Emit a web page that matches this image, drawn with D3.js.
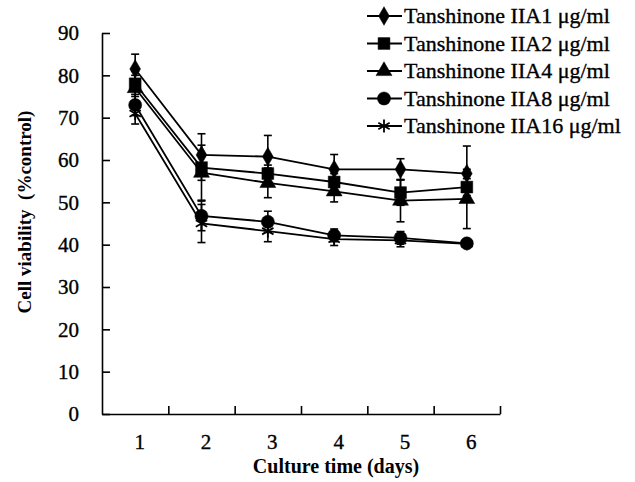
<!DOCTYPE html>
<html>
<head>
<meta charset="utf-8">
<script src="https://cdn.jsdelivr.net/npm/d3@7"></script>
<style>
    html, body { margin: 0; padding: 0; background: #fff; }
</style>
</head>
<body>
<div id="chart"></div>
<script>
var days = [1, 2, 3, 4, 5, 6];
var yTicks = [0, 10, 20, 30, 40, 50, 60, 70, 80, 90];
var seriesNames = ["Tanshinone IIA1 \u03bcg/ml", "Tanshinone IIA2 \u03bcg/ml", "Tanshinone IIA4 \u03bcg/ml",
    "Tanshinone IIA8 \u03bcg/ml", "Tanshinone IIA16 \u03bcg/ml"];
var dose1 = [81.5, 61.2, 60.8, 57.8, 57.8, 56.8];
var dose2 = [78.0, 58.2, 56.8, 54.8, 52.3, 53.6];
var dose4 = [77.0, 57.0, 54.6, 52.6, 50.4, 50.8];
var dose8 = [73.0, 46.8, 45.4, 42.2, 41.6, 40.3];
var dose16 = [71.0, 45.0, 43.2, 41.3, 41.0, 40.2];
var err1 = [3.5, 5.0, 5.0, 3.5, 2.5, 6.5];
var err2 = [3.0, 3.0, 2.0, 2.0, 3.0, 2.0];
var err4 = [3.0, 6.5, 3.5, 2.5, 5.0, 7.0];
var err8 = [2.5, 3.5, 2.5, 1.5, 1.5, 0.8];
var err16 = [2.5, 4.5, 2.5, 1.5, 1.5, 0.8];

(function () {
    "use strict";

    var w = 635, h = 482,
        serif = "'Liberation Serif', 'Times New Roman', serif";

    var svg = d3.select("#chart").append("svg")
        .attr("width", w)
        .attr("height", h)
        .attr("font-family", serif);

    var x = d3.scaleLinear().domain([0.5, 6.5]).range([102, 500]);
    var y = d3.scaleLinear().domain([0, 90]).range([414, 33]);

    var shapes = [
        { type: d3.symbolDiamond, size: 100, fill: true },
        { type: d3.symbolSquare, size: 140, fill: true },
        { type: d3.symbolTriangle, size: 110, fill: true },
        { type: d3.symbolCircle, size: 135, fill: true },
        { type: d3.symbolAsterisk, size: 120, fill: false }
    ];
    var values = [dose1, dose2, dose4, dose8, dose16];
    var errors = [err1, err2, err4, err8, err16];

    // heavier look for the scanned-style text
    var heavy = function (sel) {
        sel.attr("stroke", "#000").attr("stroke-width", 0.35);
    };

    // axes
    var xAxis = svg.append("g")
        .attr("transform", "translate(0," + y(0) + ")")
        .call(d3.axisBottom(x)
            .tickValues(days.map(function (d) { return d + 0.5; }))
            .tickFormat("")
            .tickSizeInner(-8)
            .tickSizeOuter(0));
    xAxis.select(".domain").attr("stroke-width", 1.6);
    xAxis.selectAll(".tick line").attr("stroke-width", 1.6);

    var xLabels = svg.append("g")
        .attr("transform", "translate(4," + y(0) + ")")
        .call(d3.axisBottom(x).tickValues(days).tickFormat(d3.format("d")).tickSize(0).tickPadding(20));
    xLabels.attr("font-family", serif).attr("font-size", 21);
    xLabels.select(".domain").remove();
    xLabels.selectAll("text").call(heavy);

    var yAxis = svg.append("g")
        .attr("transform", "translate(" + x(0.5) + ",0)")
        .call(d3.axisLeft(y)
            .tickValues(yTicks)
            .tickFormat(d3.format("d"))
            .tickSizeInner(-8)
            .tickSizeOuter(0)
            .tickPadding(23));
    yAxis.attr("font-family", serif).attr("font-size", 21);
    yAxis.select(".domain").attr("stroke-width", 1.6);
    yAxis.selectAll(".tick line").attr("stroke-width", 1.6);
    yAxis.selectAll("text").call(heavy);

    svg.append("text")
        .attr("x", 336)
        .attr("y", 473)
        .attr("text-anchor", "middle")
        .attr("font-size", 20)
        .attr("font-weight", "bold")
        .text("Culture time (days)");

    svg.append("text")
        .attr("transform", "translate(31,212) rotate(-90)")
        .attr("text-anchor", "middle")
        .attr("font-size", 19)
        .attr("font-weight", "bold")
        .style("white-space", "pre")
        .text("Cell viability  (%control)");

    // error bars
    values.forEach(function (vals, s) {
        var g = svg.append("g").attr("stroke", "#000").attr("stroke-width", 1.6);
        vals.forEach(function (v, i) {
            var e = errors[s][i], cx = x(days[i]);
            g.append("line")
                .attr("x1", cx).attr("x2", cx)
                .attr("y1", y(v + e)).attr("y2", y(v - e));
            [v + e, v - e].forEach(function (c) {
                g.append("line")
                    .attr("x1", cx - 4).attr("x2", cx + 4)
                    .attr("y1", y(c)).attr("y2", y(c));
            });
        });
    });

    // series lines
    var line = d3.line()
        .x(function (d, i) { return x(days[i]); })
        .y(function (d) { return y(d); });

    values.forEach(function (vals) {
        svg.append("path")
            .datum(vals)
            .attr("fill", "none")
            .attr("stroke", "#000")
            .attr("stroke-width", 1.8)
            .attr("d", line);
    });

    // markers
    values.forEach(function (vals, s) {
        var sh = shapes[s];
        svg.append("g").selectAll("path")
            .data(vals)
            .enter()
            .append("path")
            .attr("transform", function (d, i) { return "translate(" + x(days[i]) + "," + y(d) + ")"; })
            .attr("d", d3.symbol().type(sh.type).size(sh.size))
            .attr("fill", sh.fill ? "#000" : "none")
            .attr("stroke", "#000")
            .attr("stroke-width", sh.fill ? 0.5 : 1.8);
    });

    // legend
    var legend = svg.append("g");
    seriesNames.forEach(function (name, s) {
        var ly = 16 + s * 27.5, sh = shapes[s];
        legend.append("line")
            .attr("x1", 367).attr("x2", 402)
            .attr("y1", ly).attr("y2", ly)
            .attr("stroke", "#000").attr("stroke-width", 1.8);
        legend.append("path")
            .attr("transform", "translate(384," + ly + ")")
            .attr("d", d3.symbol().type(sh.type).size(sh.size))
            .attr("fill", sh.fill ? "#000" : "none")
            .attr("stroke", "#000")
            .attr("stroke-width", sh.fill ? 0.5 : 1.8);
        legend.append("text")
            .attr("x", 404)
            .attr("y", ly + 7)
            .attr("font-size", 22)
            .call(heavy)
            .text(name);
    });
})();
</script>
</body>
</html>
